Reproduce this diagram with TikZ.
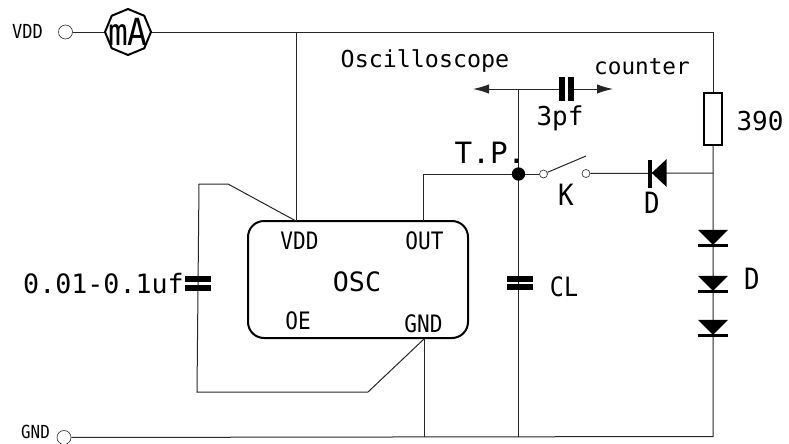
\documentclass[tikz,border=0pt]{standalone}
\usepackage{fontspec}
\usetikzlibrary{shapes.geometric}
\usetikzlibrary{arrows.meta}
\newfontfamily\narrowfont[FakeStretch=0.88]{DejaVu Sans Mono}
\newfontfamily\plainfont{DejaVu Sans Mono}
\tikzset{wire/.style={draw=black!85,line width=.75pt},
 pin/.style={circle,draw=black!80,line width=.5pt,fill=white,inner sep=0pt,minimum size=#1},
 narrowtxt/.style={inner sep=0pt,font=\narrowfont\fontsize{#1}{#1}\selectfont},
 plaintxt/.style={inner sep=0pt,font=\plainfont\fontsize{#1}{#1}\selectfont},
 capflat/.style={fill=black,inner sep=0pt,minimum width=19.5pt,minimum height=4.4pt},
 capstand/.style={fill=black,inner sep=0pt,minimum width=4.5pt,minimum height=18pt},
 diodetri/.style 2 args={isosceles triangle,isosceles triangle stretches,fill=black,inner sep=0pt,
  minimum width=#1,minimum height=#2},
 diodebar/.style={fill=black,inner sep=0pt,minimum width=22.5pt,minimum height=2.25pt},
 probe/.style={-{Latex[length=12pt,width=7pt]}},
 }
\begin{document}
\begin{tikzpicture}[x=.75pt,y=-.75pt]
        \useasboundingbox (0,0) rectangle (789,443);
        \coordinate (topright) at (713,32);
        \coordinate (toptap) at (296,32);
        \coordinate (drtap) at (713,173);
        \coordinate (botright) at (713,436.5);
        \coordinate (botout) at (424,436.5);
        \coordinate (botcl) at (518.5,436.5);
        \coordinate (outcorner) at (423,174);
        \coordinate (probetap) at (518.5,89);
        \coordinate (probeleft) at (473,89);
        \coordinate (proberight) at (613,89);
        \coordinate (bladeend) at (586,156);
        \coordinate (loopa) at (228,184);
        \coordinate (loopb) at (199,184);
        \coordinate (loopc) at (197,392);
        \coordinate (loopd) at (368,392);
        \node[draw,line width=1.5pt,rounded corners=12pt,inner sep=0pt,minimum width=165pt,minimum height=87.75pt] (osc) at (358,279.5) {};
        \node[plaintxt=20pt] (osclabel) at (357,282) {OSC};
        \node[narrowtxt=18pt] (oscvdd) at (299.5,240.5) {VDD};
        \node[narrowtxt=18pt] (oscout) at (424.5,241) {OUT};
        \node[narrowtxt=18pt] (oscoe) at (298,321) {OE};
        \node[narrowtxt=18pt] (oscgnd) at (423.5,323.5) {GND};
        \coordinate (oscvddpin) at (296,221);
        \coordinate (oscoutpin) at (423,221);
        \coordinate (oscgndpin) at (424,339);
        \node[regular polygon,regular polygon sides=8,shape border rotate=22.5,draw,line width=1.5pt,fill=white,inner sep=0pt,minimum size=34.5pt] (meter) at (128,32) {};
        \node[narrowtxt=28pt] (meterlabel) at (128,32) {mA};
        \node[pin=10.5pt] (vddpin) at (65.5,32) {};
        \node[pin=10.5pt] (gndpin) at (64,437.5) {};
        \node[narrowtxt=14.5pt] (vddlabel) at (27.5,31) {VDD};
        \node[narrowtxt=13.5pt] (gndlabel) at (35.5,431.5) {GND};
        \node[draw,line width=1.5pt,fill=white,inner sep=0pt,minimum width=13pt,minimum height=39pt] (res) at (713,119) {};
        \node[plaintxt=19.5pt] (reslabel) at (760,121) {390};
        \draw[wire] (vddpin) -- (meter);
        \draw[wire] (meter) -- (topright) -- (res);
        \draw[wire] (res) -- (botright) -- (gndpin);
        \draw[wire] (toptap) -- (oscvddpin);
        \draw[wire] (oscoutpin) -- (outcorner);
        \draw[wire] (oscgndpin) -- (botout);
        \draw[wire] (oscvddpin) -- (loopa) -- (loopb) -- (loopc) -- (loopd) -- (oscgndpin);
        \draw[wire] (probetap) -- (botcl);
        \node[capflat] (cplatetop) at (197.5,279) {};
        \node[capflat] (cplatebot) at (197.5,288) {};
        \node[plaintxt=20pt] (clabel) at (103.5,284) {0.01-0.1uf};
        \node[capflat] (clplatetop) at (519.5,278.7) {};
        \node[capflat] (clplatebot) at (519.5,287) {};
        \node[narrowtxt=20pt] (cllabel) at (564,287) {CL};
        \node[capstand] (pfleft) at (562,89) {};
        \node[capstand] (pfright) at (571,89) {};
        \draw[wire,probe] (probetap) -- (probeleft);
        \draw[wire] (probetap) -- (pfleft);
        \draw[wire,probe] (pfright) -- (proberight);
        \node[plaintxt=17.5pt] (scopelabel) at (425,61) {Oscilloscope};
        \node[plaintxt=17pt] (counterlabel) at (642,67) {counter};
        \node[plaintxt=19.5pt] (pflabel) at (560,118) {3pf};
        \node[circle,fill=black,inner sep=0pt,minimum size=10pt] (tp) at (518.5,174) {};
        \node[plaintxt=22pt] (tplabel) at (490,153) {T.P.};
        \draw[wire] (outcorner) -- (tp);
        \node[pin=6pt] (swleft) at (543.5,174) {};
        \node[pin=6pt] (swright) at (586,173.5) {};
        \draw[wire] (tp) -- (swleft);
        \draw[wire] (swleft) -- (bladeend);
        \draw[wire] (swright) -- (drtap);
        \node[narrowtxt=22pt] (klabel) at (566,195) {K};
        \node[diodetri={21pt}{11.25pt},shape border rotate=180,anchor=apex] (dleft) at (651,173) {};
        \node[fill=black,inner sep=0pt,minimum width=3pt,minimum height=21pt] (dleftbar) at (650,174) {};
        \node[narrowtxt=22pt] (dleftlabel) at (652,203) {D};
        \foreach \name/\ypos in {done/245.5,dtwo/291.5,dthree/335.5}{
            \node[diodebar] (\name bar) at (713,\ypos) {};
            \node[diodetri={22.5pt}{11.25pt},shape border rotate=270,anchor=apex] (\name) at (713,\ypos) {};
        }
        \node[narrowtxt=22pt] (drightlabel) at (752,279) {D};
\end{tikzpicture}
\end{document}
